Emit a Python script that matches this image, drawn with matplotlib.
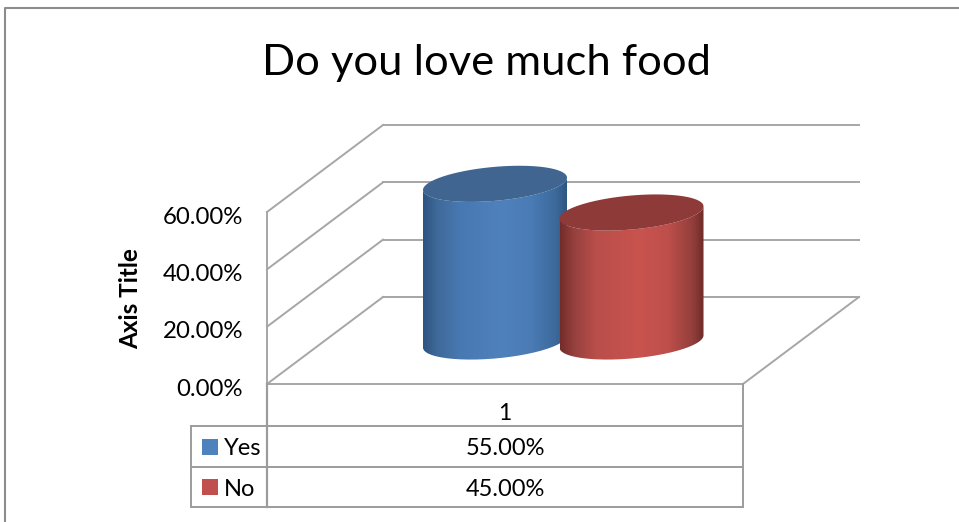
import matplotlib
matplotlib.use("Agg")
import matplotlib.pyplot as plt
import numpy as np
from matplotlib.colors import LinearSegmentedColormap
from matplotlib.patches import PathPatch
from matplotlib.path import Path

title = "Do you love much food"
y_label = "Axis Title"
category = "1"
series_names = ["Yes", "No"]
series_values = [55.0, 45.0]
y_ticks = [0, 20, 40, 60]

side_stops = [0, 0.1, 0.25, 0.55, 0.75, 0.92, 1]
side_colors = [
    ["#2e5480", "#3f6a9a", "#4878b0", "#4f81bd", "#4a7bb5", "#3d6a9c", "#2f5680"],
    ["#742c2a", "#97413e", "#b94e4a", "#c9534f", "#be4f4b", "#943f3c", "#6e2b29"],
]
top_colors = ["#3f6590", "#8e3a38"]
key_colors = ["#4f81bd", "#c0504d"]
cyl_x = [495, 631.5]

grid_color = "#a6a6a6"
table_color = "#9c9c9c"

# pixel layout of the fake 3d box
x_front, x_back, x_right = 267, 383, 743
y_zero, depth = 384, 87
px_per_pct = (384 - 212) / 60
y_base = 341.5
cyl_a, cyl_b, cyl_skew = 72, 17, 0.085


def val_y(v):
    return y_zero - v * px_per_pct


def ellipse(cx, cy, t):
    x = cx + cyl_a * np.cos(t)
    y = cy + cyl_b * np.sin(t) - cyl_skew * cyl_a * np.cos(t)
    return x, y


fig = plt.figure(figsize=(9.59, 5.22), dpi=100)
plt.rcParams["font.family"] = ["Lato", "DejaVu Sans"]
ax = fig.add_axes([0, 0, 1, 1])
ax.set_xlim(0, 959)
ax.set_ylim(522, 0)
ax.axis("off")

# outer border, runs off the picture on the right and bottom
ax.plot([5, 5, 959], [522, 8, 8], color="#8c8c8c", lw=1.5)

ax.text(486, 63, title, ha="center", va="center", fontsize=31.3, color="black")

# walls and floor
for t in y_ticks:
    y = val_y(t)
    if t > 0:
        ax.plot([x_back, x_right + 116], [y - depth, y - depth], color=grid_color, lw=1.4)
    ax.plot([x_front, x_back], [y, y - depth], color=grid_color, lw=1.4)
    ax.text(243, y + 5, "{:.2f}%".format(t), ha="right", va="center", fontsize=17.3, color="black")
ax.plot([x_front, x_right, x_right + 116], [y_zero, y_zero, y_zero - depth], color=grid_color, lw=1.4)
ax.plot([x_back, x_right + 116], [y_zero - depth, y_zero - depth], color=grid_color, lw=1.4)
ax.plot([x_front, x_front], [val_y(60), y_zero], color=grid_color, lw=1.4)

ax.text(131, 299, y_label, rotation=90, ha="center", va="center", fontsize=17.5, fontweight="bold")

# cylinders
t_front = np.linspace(0, np.pi, 80)
t_all = np.linspace(0, 2 * np.pi, 160)
for i, v in enumerate(series_values):
    cx = cyl_x[i]
    y_top = y_base - v * px_per_pct
    bx, by = ellipse(cx, y_base, t_front)
    tx, ty = ellipse(cx, y_top, t_front[::-1])
    verts = np.vstack([np.column_stack([bx, by]), np.column_stack([tx, ty])])
    side = PathPatch(Path(np.vstack([verts, verts[0]])), facecolor="none", edgecolor="none")
    ax.add_patch(side)
    cmap = LinearSegmentedColormap.from_list("side", list(zip(side_stops, side_colors[i])))
    im = ax.imshow(
        np.linspace(0, 1, 256).reshape(1, -1),
        cmap=cmap,
        extent=[cx - cyl_a, cx + cyl_a, by.max() + 2, ty.min() - 2],
        aspect="auto",
        zorder=3 + i,
    )
    im.set_clip_path(side)
    ex, ey = ellipse(cx, y_top, t_all)
    ax.fill(ex, ey, color=top_colors[i], lw=0, zorder=3 + i)

ax.set_xlim(0, 959)
ax.set_ylim(522, 0)

# data table
row_y = [426, 467, 507]
x_key = 191
for y in row_y:
    ax.plot([x_key, x_right], [y, y], color=table_color, lw=1.4)
ax.plot([x_key, x_key], [row_y[0], row_y[-1]], color=table_color, lw=1.4)
ax.plot([x_front, x_front], [y_zero, row_y[-1]], color=table_color, lw=1.6)
ax.plot([x_right, x_right], [y_zero, row_y[-1]], color=table_color, lw=1.4)

ax.text(505, 413, category, ha="center", va="center", fontsize=16.5, color="black")
for i, name in enumerate(series_names):
    yc = (row_y[i] + row_y[i + 1]) / 2
    ax.scatter([209.5], [yc], marker="s", s=117, color=key_colors[i], lw=0)
    ax.text(224, yc + 2, name, ha="left", va="center", fontsize=17, color="black")
    ax.text(505, yc + 2, "{:.2f}%".format(series_values[i]), ha="center", va="center", fontsize=17, color="black")

plt.savefig("out.png", dpi=100)
